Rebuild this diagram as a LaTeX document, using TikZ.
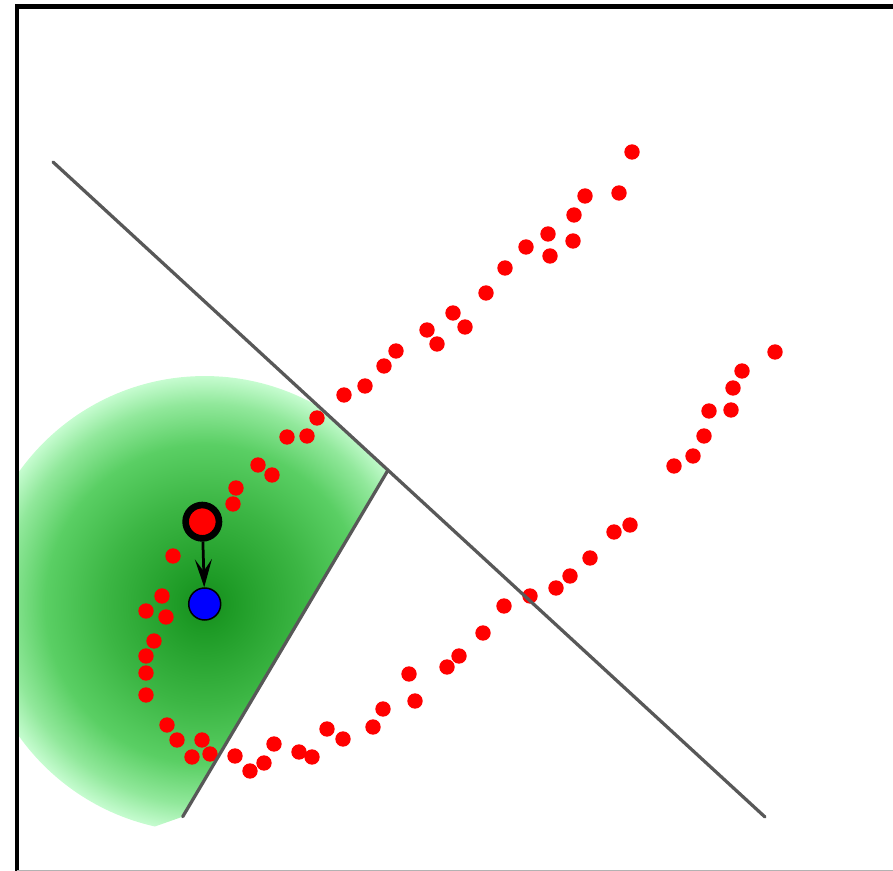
\documentclass[tikz,border=0pt]{standalone}
\usetikzlibrary{arrows.meta,calc}
\definecolor{gA}{RGB}{22,140,28}
\definecolor{gB}{RGB}{30,155,38}
\definecolor{gC}{RGB}{60,182,68}
\definecolor{gD}{RGB}{90,207,100}
\definecolor{gF}{RGB}{145,232,155}
\definecolor{gE}{RGB}{198,252,208}
\definecolor{wallgray}{RGB}{88,88,88}
\pgfdeclareradialshading{greenfov}{\pgfpoint{0bp}{0bp}}{color(0bp)=(gA); color(3bp)=(gB); color(11bp)=(gC); color(17.5bp)=(gD); color(22bp)=(gF); color(25bp)=(gE); color(50bp)=(gE)}
\tikzset{
  rdot/.style={circle,fill=red,draw=none,inner sep=0pt,minimum size=0.308cm},
  wall/.style={draw=wallgray,line width=0.065cm,line cap=round},
  robot/.style={circle,fill=red,draw=black,line width=0.133cm,inner sep=0pt,minimum size=0.667cm},
  goal/.style={circle,fill=blue,draw=black,line width=0.03cm,inner sep=0pt,minimum size=0.64cm},
  motion/.style={draw=black,line width=0.055cm,-{Stealth[length=0.56cm,width=0.34cm,inset=0.24cm]}}
}
\begin{document}
\begin{tikzpicture}[x=0.02cm,y=-0.02cm]
\useasboundingbox (0,0) rectangle (893,871);
\clip (0,0) rectangle (893,871);
\coordinate (W1a) at (53,162);
\coordinate (W1b) at (765,817);
\coordinate (J) at ($(W1a)!0.4705!(W1b)$);
\coordinate (W2b) at (182.7,816.7);
\coordinate (C) at (204.7,604);
% field of view
\begin{scope}
  \clip (19,-10) -- (19,900) -- (-100,916) -- (154.3,826.7) -- (W2b) -- (J) -- (W1a) -- ($(W1a)!-0.3!(W1b)$) -- (-100,-100) -- cycle;
  \clip (19,9) rectangle (900,900);
  \shade[shading=greenfov] (C) circle [radius=4.56cm];
\end{scope}
% frame
\draw[line width=0.1cm] (17,900) -- (17,6.5) -- (900,6.5);
\draw[gray!60,line width=0.02cm] (17,870.5) -- (900,870.5);
% measurement points
\foreach \x/\y [count=\i] in {632/152,619/193,585/196,574/215,548/234,573/241,550/256,526/247,505/268,486/293,453/313,465/327,427/330,437/344,396/351,384/366,365/386,344/395,317/418,307/436,287/437,258/465,272/475,236/488,233/504,173/556,162/596,146/611,166/617,154/641,146/656,146/673,146/695,167/725,177/740,202/740,192/757,210/754,235/756,250/771,264/763,274/744,299/752,312/757,327/729,343/739,373/727,383/709,409/674,415/701,447/667,459/656,483/633,504/606,530/596,556/588,570/576,590/558,614/532,630/525,674/466,693/456,704/436,709/411,731/410,733/388,742/371,775/352}
  \node[rdot] (p\i) at (\x,\y) {};
% walls
\draw[wall] (W1a) -- (W1b);
\draw[wall] (J) -- (W2b);
% robot and goal
\node[robot] (r) at (202.3,521.7) {};
\node[goal] (g) at (C) {};
\draw[motion] (r) -- (g);
\end{tikzpicture}
\end{document}
